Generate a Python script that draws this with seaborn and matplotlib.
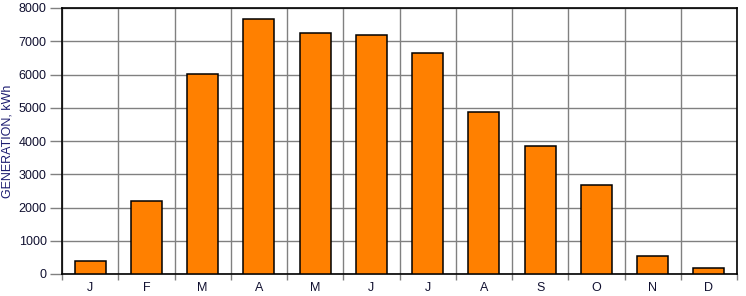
import numpy as np
import pandas as pd
import matplotlib
matplotlib.use("Agg")
import matplotlib.pyplot as plt
import seaborn as sns

months = ["Jan", "Feb", "Mar", "Apr", "May", "Jun", "Jul", "Aug", "Sep", "Oct", "Nov", "Dec"]
tick_labels = ["J", "F", "M", "A", "M", "J", "J", "A", "S", "O", "N", "D"]
generation = [390, 2190, 6010, 7660, 7240, 7180, 6640, 4880, 3850, 2680, 540, 180]
y_ticks = [0, 1000, 2000, 3000, 4000, 5000, 6000, 7000, 8000]

sns.set_theme(style="white")
plt.rcParams['font.family'] = ['Liberation Sans', 'DejaVu Sans']

df = pd.DataFrame({"month": months, "gen": generation})

fig = plt.figure(figsize=(7.46, 2.96), dpi=100)
ax = fig.add_axes([62/746, 1-274/296, (737-62)/746, (274-8)/296])

sns.barplot(data=df, x="month", y="gen", order=months, color="#ff8000",
            saturation=1, width=0.55, edgecolor="black", linewidth=1.1, ax=ax, zorder=3)

ax.set_ylim(0, 8000)
ax.set_xlim(-0.5, 11.5)
ax.set_yticks(y_ticks)
ax.set_yticklabels([str(v) for v in y_ticks], fontsize=9, color="#101030")
ax.set_xticks(np.arange(12))
ax.set_xticklabels(tick_labels, fontsize=9, color="#101030")
ax.set_xticks(np.arange(-0.5, 12, 1), minor=True)

ax.grid(axis="y", which="major", color="#808080", linewidth=1, zorder=0)
ax.grid(axis="x", which="minor", color="#808080", linewidth=1, zorder=0)
ax.set_axisbelow(True)

ax.tick_params(axis="x", which="major", length=0, pad=6)
ax.tick_params(axis="x", which="minor", length=4, width=1, color="#808080", bottom=True)
ax.tick_params(axis="y", which="major", length=9, width=1, color="#808080", left=True, pad=2)

for s in ax.spines.values():
    s.set_color("black")
    s.set_linewidth(1.2)
    s.set_visible(True)

ax.set_xlabel("")
ax.set_ylabel("GENERATION, kWh", fontsize=9, color="#1c1c70", labelpad=4)

fig.savefig("out.png", dpi=100)
